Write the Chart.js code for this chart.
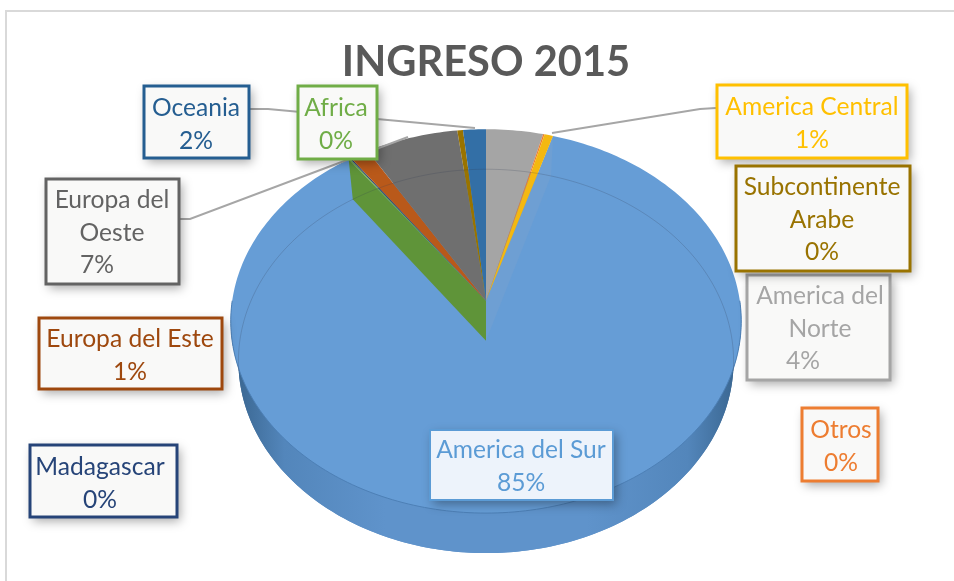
<!DOCTYPE html>
<html>
<head>
<meta charset="utf-8">
<title>INGRESO 2015</title>
<style>
	html, body { margin: 0; padding: 0; background: #fff; overflow: hidden; }
	canvas { display: block; }
</style>
</head>
<body>
<canvas id="myChart" width="954" height="581"></canvas>
<script src="https://cdn.jsdelivr.net/npm/chart.js@4/dist/chart.umd.js"></script>
<script>
// clockwise from 12 o'clock, values in percent
var categories = ["America del Norte", "Otros", "America Central", "America del Sur", "Africa", "Madagascar", "Europa del Este", "Europa del Oeste", "Subcontinente Arabe", "Oceania"];
var values = [4.0, 0.1, 0.6, 85.3, 0.1, 0.1, 1.3, 6.5, 0.4, 1.6];
var sliceColors = ["#a5a5a5", "#ed7d31", "#f4b810", "#669dd6", "#70ad47", "#264478", "#b9591a", "#6f6f6f", "#997300", "#336fa6"];
var textColors = ["#a5a5a5", "#ed7d31", "#ffc000", "#5b9bd5", "#70ad47", "#264478", "#9e480e", "#636363", "#997300", "#255e91"];
var titleText = "INGRESO 2015";

// label boxes: x, y, w, h, text centre, wrapped name, x of the percent line
var boxes = {
	"America del Norte": { x: 747, y: 275, w: 143, h: 105, cx: 820, lines: ["America del", "Norte"], pctX: 803, base: 304 },
	"Otros": { x: 802, y: 408, w: 76, h: 73, cx: 841, lines: ["Otros"], base: 438 },
	"America Central": { x: 717, y: 85, w: 190, h: 73, cx: 812, lines: ["America Central"], base: 115 },
	"America del Sur": { x: 430, y: 430, w: 183, h: 70, cx: 521, lines: ["America del Sur"], base: 458, fill: "#edf3fb", line: 2 },
	"Africa": { x: 298, y: 86, w: 79, h: 73, cx: 336, lines: ["Africa"], base: 116 },
	"Madagascar": { x: 30, y: 445, w: 147, h: 72, cx: 100, lines: ["Madagascar"], base: 475 },
	"Europa del Este": { x: 39, y: 318, w: 183, h: 71, cx: 130, lines: ["Europa del Este"], base: 347 },
	"Europa del Oeste": { x: 46, y: 179, w: 133, h: 105, cx: 112, lines: ["Europa del", "Oeste"], pctX: 97, base: 208 },
	"Subcontinente Arabe": { x: 736, y: 166, w: 174, h: 105, cx: 822, lines: ["Subcontinente", "Arabe"], base: 195 },
	"Oceania": { x: 144, y: 86, w: 105, h: 72, cx: 196, lines: ["Oceania"], base: 116 }
};
var leaders = [
	[[250, 109], [268, 109], [475, 128]],
	[[180, 219], [190, 219], [408, 137]],
	[[716, 108], [700, 109], [552, 133]]
];

var TILT = 0.7477;
var PERSP = 0.1065;
var WALL = 40;
var BOTTOM_X = 0.97;

// puts a pie angle on the tilted disc, depth 0 is the top face and 1 the bottom one
function project(arc, angle, depth) {
	var t = angle + Math.PI / 2;
	var d = 1 + PERSP * Math.cos(t);
	var sx = depth ? BOTTOM_X : 1;
	return {
		x: arc.x + arc.outerRadius * sx * Math.sin(t) / d,
		y: arc.y + depth * WALL - arc.outerRadius * TILT * Math.cos(t) / d
	};
}

function rimPath(ctx, arc, from, to, depth, first) {
	var steps = Math.max(2, Math.ceil(Math.abs(to - from) / 0.02));
	for (var i = 0; i <= steps; i++) {
		var p = project(arc, from + (to - from) * i / steps, depth);
		if (i === 0 && first) ctx.moveTo(p.x, p.y);
		else ctx.lineTo(p.x, p.y);
	}
}

function drawSlice(ctx, arc, color) {
	ctx.beginPath();
	ctx.moveTo(arc.x, arc.y);
	rimPath(ctx, arc, arc.startAngle, arc.endAngle, 0, false);
	ctx.closePath();
	ctx.fillStyle = color;
	ctx.fill();
}

function drawWall(ctx, arc, angle, color) {
	var a = project(arc, angle, 0);
	var b = project(arc, angle, 1);
	ctx.beginPath();
	ctx.moveTo(arc.x, arc.y);
	ctx.lineTo(arc.x, arc.y + WALL);
	ctx.lineTo(b.x, b.y);
	ctx.lineTo(a.x, a.y);
	ctx.closePath();
	ctx.fillStyle = color;
	ctx.fill();
}

var pie3d = {
	id: "pie3d",
	beforeDraw: function (chart) {
		var ctx = chart.ctx;
		ctx.save();
		ctx.strokeStyle = "#d9d9d9";
		ctx.lineWidth = 2;
		ctx.beginPath();
		ctx.moveTo(6, 581);
		ctx.lineTo(6, 11);
		ctx.lineTo(954, 11);
		ctx.stroke();
		ctx.restore();
	},
	// the library works out the angles, only the painting of the arcs is replaced
	beforeDatasetDraw: function (chart) {
		var ctx = chart.ctx;
		var arcs = chart.getDatasetMeta(0).data;
		var sur = arcs[categories.indexOf("America del Sur")];
		var first = arcs[0];
		ctx.save();

		var shade = ctx.createLinearGradient(234, 0, 738, 0);
		shade.addColorStop(0, "#39658f");
		shade.addColorStop(0.1, "#5386bb");
		shade.addColorStop(0.3, "#5f93cb");
		shade.addColorStop(0.7, "#5f93cb");
		shade.addColorStop(0.9, "#5386bb");
		shade.addColorStop(1, "#39658f");
		ctx.beginPath();
		rimPath(ctx, first, -Math.PI / 2, Math.PI * 1.5, 1, true);
		ctx.closePath();
		ctx.fillStyle = shade;
		ctx.fill();
		ctx.beginPath();
		rimPath(ctx, first, 0, Math.PI, 0, true);
		rimPath(ctx, first, Math.PI, 0, 1, false);
		ctx.closePath();
		ctx.fill();

		drawSlice(ctx, sur, sliceColors[categories.indexOf("America del Sur")]);

		ctx.beginPath();
		rimPath(ctx, first, 0, Math.PI, 0, true);
		ctx.strokeStyle = "#4d80b6";
		ctx.lineWidth = 1;
		ctx.stroke();

		drawWall(ctx, sur, sur.startAngle, "#6e9fd3");
		drawWall(ctx, sur, sur.endAngle, "#5f9439");

		arcs.forEach(function (arc, i) {
			if (arc !== sur) drawSlice(ctx, arc, sliceColors[i]);
		});

		// back edge of the bottom face shows through the disc
		ctx.beginPath();
		rimPath(ctx, first, -Math.PI * 1.05, Math.PI * 0.05, 1, true);
		ctx.strokeStyle = "rgba(50, 60, 80, 0.22)";
		ctx.lineWidth = 1;
		ctx.stroke();

		ctx.restore();
		return false;
	},
	afterDatasetsDraw: function (chart) {
		var ctx = chart.ctx;
		ctx.save();
		ctx.strokeStyle = "#a6a6a6";
		ctx.lineWidth = 2;
		leaders.forEach(function (pts) {
			ctx.beginPath();
			pts.forEach(function (p, i) {
				if (i === 0) ctx.moveTo(p[0], p[1]);
				else ctx.lineTo(p[0], p[1]);
			});
			ctx.stroke();
		});

		ctx.font = "24.6px Lato";
		ctx.textAlign = "center";
		categories.forEach(function (name, i) {
			var b = boxes[name];
			ctx.save();
			ctx.shadowColor = "rgba(0, 0, 0, 0.35)";
			ctx.shadowBlur = 10;
			ctx.shadowOffsetX = 3;
			ctx.shadowOffsetY = 4;
			ctx.fillStyle = b.fill || "#f9f9f8";
			ctx.fillRect(b.x, b.y, b.w, b.h);
			ctx.restore();
			ctx.strokeStyle = textColors[i];
			ctx.lineWidth = b.line || 3;
			ctx.strokeRect(b.x, b.y, b.w, b.h);

			ctx.fillStyle = textColors[i];
			var y = b.base;
			b.lines.forEach(function (line) {
				ctx.fillText(line, b.cx, y);
				y += 32.5;
			});
			ctx.fillText(Math.round(values[i]) + "%", b.pctX || b.cx, y);
		});
		ctx.restore();
	}
};

new Chart("myChart", {
	type: "pie",
	data: {
		labels: categories,
		datasets: [
			{
				data: values,
				backgroundColor: sliceColors,
				borderWidth: 0,
			},
		],
	},
	options: {
		responsive: false,
		animation: false,
		layout: {
			padding: { left: 231.5, right: 213.5, top: 8, bottom: 26.5 },
		},
		plugins: {
			legend: { display: false },
			tooltip: { enabled: false },
			title: {
				display: true,
				text: titleText,
				color: "#595959",
				font: { family: "Lato", size: 41.6, weight: "bold" },
				padding: { top: 29.5, bottom: -40.5 },
			},
		},
	},
	plugins: [pie3d],
});
</script>
</body>
</html>
